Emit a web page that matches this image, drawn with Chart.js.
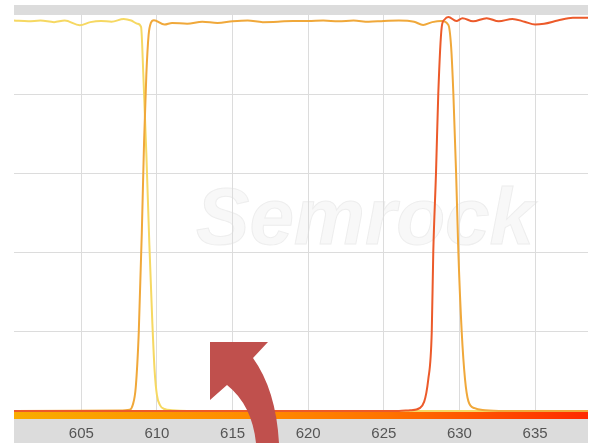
<!DOCTYPE html>
<html>
<head>
<meta charset="utf-8">
<script src="https://cdn.jsdelivr.net/npm/chart.js@4/dist/chart.umd.min.js"></script>
<style>
  html, body { margin: 0; padding: 0; background: #fff; }
  #wrap { width: 598px; height: 443px; }
</style>
</head>
<body>
<div id="wrap"><canvas id="spectrum"></canvas></div>
<script>
// wavelength (nm) / transmission (%)
const xTicks = [605, 610, 615, 620, 625, 630, 635];
const yTicks = [20, 40, 60, 80];

// short-pass (yellow)
const shortNm = [600.55, 601.5, 602.3, 603.2, 603.9, 604.9, 605.6, 606.3, 607.0, 607.8, 608.3, 608.7, 608.95, 609.1, 609.3, 609.5, 609.7, 609.85, 610.0, 610.2, 610.5, 611.0, 612, 620, 630, 638.5];
const shortT  = [98.6, 98.4, 98.6, 98.2, 98.6, 97.4, 98.2, 98.5, 98.3, 99.0, 98.6, 97.8, 97.0, 85, 65, 42, 22, 10, 4, 1.5, 0.5, 0.2, 0, 0, 0, 0];

// band-pass (orange)
const bandNm = [600.55, 607.5, 608.2, 608.4, 608.6, 608.8, 609.0, 609.15, 609.3, 609.45, 609.6, 609.8, 610.5, 611, 612, 613, 614, 615, 616, 617, 618, 619, 620, 621, 622, 623, 624, 625, 626, 627, 627.6, 628.2, 628.8, 629.27, 629.45, 629.6, 629.78, 629.93, 630.15, 630.37, 630.59, 631.0, 631.7, 633, 638.5];
const bandT  = [0, 0.1, 0.3, 1.5, 6, 20, 45, 68, 85, 95, 98, 98.7, 97.6, 98.0, 97.8, 98.3, 98.0, 98.4, 98.6, 98.2, 98.3, 98.5, 98.5, 98.6, 98.4, 98.6, 98.3, 98.5, 98.6, 98.3, 97.5, 98.2, 98.5, 97.5, 92, 80, 60, 40, 20, 8, 2.5, 0.7, 0.2, 0, 0];

// long-pass (red)
const longNm = [600.55, 626.0, 626.74, 627.4, 627.94, 628.17, 628.27, 628.45, 628.6, 628.83, 629.0, 629.27, 629.8, 630.2, 630.9, 631.8, 632.6, 633.5, 634.3, 635.0, 635.6, 636.5, 637.5, 638.5];
const longT  = [0, 0, 0.2, 0.8, 8, 20, 40, 60, 80, 97, 98.8, 99.5, 98.5, 99.2, 98.4, 99.2, 98.4, 99.0, 98.3, 97.6, 97.8, 98.6, 99.3, 99.3];

const toPoints = (xs, ys) => xs.map((x, i) => ({ x: x, y: ys[i] }));

// grey frame bands, watermark, colour bar and the red arrow
const decorations = {
  id: 'decorations',
  beforeDraw(chart) {
    const { ctx, chartArea: a } = chart;
    ctx.save();
    ctx.fillStyle = '#dcdcdc';
    ctx.fillRect(a.left, a.top - 10, a.right - a.left, 10);
    ctx.fillRect(a.left, a.bottom + 8, a.right - a.left, chart.height - a.bottom - 8);

    ctx.font = 'bold italic 80px "Liberation Sans"';
    ctx.textAlign = 'center';
    ctx.textBaseline = 'alphabetic';
    ctx.fillStyle = '#f8f8f8';
    ctx.fillText('Semrock', 365, 244);
    ctx.strokeStyle = '#eeeeee';
    ctx.lineWidth = 1;
    ctx.strokeText('Semrock', 365, 244);
    ctx.restore();
  },
  beforeDatasetsDraw(chart) {
    const { ctx, chartArea: a } = chart;
    const g = ctx.createLinearGradient(a.left, 0, a.right, 0);
    g.addColorStop(0, '#f9ac00');
    g.addColorStop(0.4, '#ff8c00');
    g.addColorStop(0.65, '#ff7300');
    g.addColorStop(1, '#ff2a00');
    ctx.save();
    ctx.fillStyle = g;
    ctx.fillRect(a.left, a.bottom, a.right - a.left, 8);
    ctx.restore();
  },
  afterDraw(chart) {
    const ctx = chart.ctx;
    ctx.save();
    ctx.fillStyle = '#c0504d';
    ctx.beginPath();
    ctx.moveTo(210, 342);
    ctx.lineTo(268, 342);
    ctx.lineTo(253, 358);
    ctx.quadraticCurveTo(276, 390, 279, 443);
    ctx.lineTo(256, 443);
    ctx.quadraticCurveTo(252, 405, 227, 385);
    ctx.lineTo(210, 400);
    ctx.closePath();
    ctx.fill();
    ctx.restore();
  }
};

const ctx = document.getElementById('spectrum').getContext('2d');

const spectrumChart = new Chart(ctx, {
    type: 'line',
    data: {
        datasets: [
            { label: 'Long-pass', data: toPoints(longNm, longT), borderColor: '#ec5a2a', order: 0 },
            { label: 'Band-pass', data: toPoints(bandNm, bandT), borderColor: '#f0a83a', order: 1 },
            { label: 'Short-pass', data: toPoints(shortNm, shortT), borderColor: '#f6d862', order: 2 }
        ]
    },
    options: {
        responsive: true,
        maintainAspectRatio: false,
        animation: false,
        datasets: {
            line: {
                borderWidth: 2,
                pointRadius: 0,
                cubicInterpolationMode: 'monotone',
                clip: 4
            }
        },
        layout: { padding: { left: 14, right: 10, top: 15, bottom: 0 } },
        plugins: {
            legend: { display: false },
            tooltip: { enabled: false }
        },
        scales: {
            x: {
                type: 'linear',
                min: 600.55,
                max: 638.5,
                afterBuildTicks: s => { s.ticks = xTicks.map(v => ({ value: v })); },
                afterFit: s => { s.height = 32; },
                border: { display: false },
                grid: { color: '#dcdcdc', drawTicks: false },
                ticks: {
                    padding: 14,
                    color: '#555',
                    font: { family: '"Liberation Sans", Arial, sans-serif', size: 15 },
                    maxRotation: 0
                }
            },
            y: {
                min: 0,
                max: 100,
                afterBuildTicks: s => { s.ticks = yTicks.map(v => ({ value: v })); },
                afterFit: s => { s.width = 0; },
                border: { display: false },
                grid: { color: '#dcdcdc', drawTicks: false },
                ticks: { display: false }
            }
        }
    },
    plugins: [decorations]
});
</script>
</body>
</html>
